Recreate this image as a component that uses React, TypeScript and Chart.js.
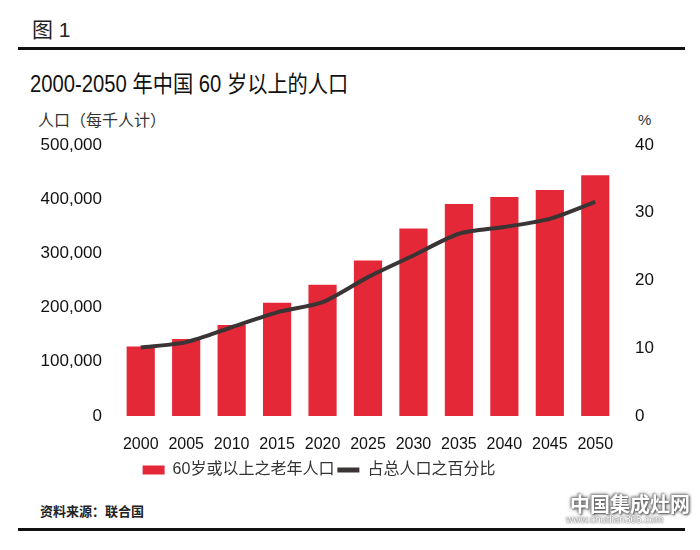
import React, { useEffect, useRef } from "react";
import { Chart, registerables } from "chart.js";

Chart.register(...registerables);

const years = ["2000", "2005", "2010", "2015", "2020", "2025", "2030", "2035", "2040", "2045", "2050"];
const elderlyPopulation = [128000, 142000, 168000, 209000, 242000, 287000, 346000, 391000, 404000, 417000, 444000];
const sharePercent = [10.1, 10.9, 13.1, 15.3, 16.8, 20.5, 23.7, 26.9, 27.9, 29.1, 31.6];
const leftTicks = [0, 100000, 200000, 300000, 400000, 500000];
const rightTicks = [0, 10, 20, 30, 40];

const barLabel = "60岁或以上之老年人口";
const lineLabel = "占总人口之百分比";

const RED = "#e52838";
const DARK = "#3a3434";
const FONT = "'Liberation Sans', 'Noto Sans CJK SC', sans-serif";

const legendShift = {
  id: "legendShift",
  afterLayout(chart: any) {
    const lg = chart.legend;
    if (lg) {
      lg.left -= 49;
      lg.right -= 49;
    }
  },
};

export default function App() {
  const ref = useRef<HTMLCanvasElement>(null);

  useEffect(() => {
    if (!ref.current) return;
    const chart = new Chart(ref.current, {
      type: "bar",
      data: {
        labels: years,
        datasets: [
          {
            type: "line",
            label: lineLabel,
            data: sharePercent,
            yAxisID: "y1",
            borderColor: DARK,
            backgroundColor: DARK,
            borderWidth: 4,
            pointRadius: 0,
            tension: 0.25,
            order: 0,
          } as any,
          {
            type: "bar",
            label: barLabel,
            data: elderlyPopulation,
            yAxisID: "y",
            backgroundColor: RED,
            borderWidth: 0,
            barPercentage: 0.62,
            categoryPercentage: 1,
            order: 1,
          },
        ],
      },
      plugins: [legendShift],
      options: {
        animation: false,
        responsive: false,
        maintainAspectRatio: false,
        layout: { padding: { top: 45, bottom: 12, left: 0, right: 0 } },
        plugins: {
          tooltip: { enabled: false },
          legend: {
            position: "bottom",
            fullSize: false,
            reverse: true,
            labels: {
              usePointStyle: true,
              pointStyleWidth: 22,
              boxHeight: 9,
              padding: 3,
              color: "#333",
              font: { family: FONT, size: 16 },
              generateLabels: (c: any) => {
                return c.data.datasets.map((ds: any, i: number) => {
                  const isLine = ds.type === "line";
                  return {
                    text: ds.label,
                    fillStyle: isLine ? DARK : RED,
                    strokeStyle: isLine ? DARK : RED,
                    lineWidth: isLine ? 5 : 0,
                    pointStyle: isLine ? "line" : "rect",
                    hidden: false,
                    datasetIndex: i,
                    fontColor: "#333",
                  };
                });
              },
            },
          },
        },
        scales: {
          x: {
            grid: { display: false, drawTicks: false },
            border: { display: false },
            ticks: {
              color: "#111",
              font: { family: FONT, size: 16 },
              padding: 19,
              maxRotation: 0,
              autoSkip: false,
            },
            afterFit: (s: any) => {
              s.height = 43;
            },
          },
          y: {
            position: "left",
            min: 0,
            max: 500000,
            grid: { display: false, drawTicks: false },
            border: { display: false },
            afterBuildTicks: (s: any) => {
              s.ticks = leftTicks.map((v) => ({ value: v }));
            },
            ticks: {
              color: "#111",
              font: { family: FONT, size: 17 },
              padding: 16,
              callback: (v: any) => Number(v).toLocaleString("en-US"),
            },
            afterFit: (s: any) => {
              s.width = 118;
            },
          },
          y1: {
            position: "right",
            min: 0,
            max: 40,
            grid: { display: false, drawTicks: false },
            border: { display: false },
            afterBuildTicks: (s: any) => {
              s.ticks = rightTicks.map((v) => ({ value: v }));
            },
            ticks: {
              color: "#111",
              font: { family: FONT, size: 17 },
              padding: 17,
            },
            afterFit: (s: any) => {
              s.width = 82;
            },
          },
        },
      },
    });
    return () => chart.destroy();
  }, []);

  const base: React.CSSProperties = {
    position: "absolute",
    fontFamily: FONT,
    whiteSpace: "nowrap",
    margin: 0,
  };

  return (
    <div style={{ position: "absolute", left: 0, top: 0, width: 700, height: 550, background: "#fff", overflow: "hidden" }}>
      <div style={{ ...base, left: 32, top: 13, fontSize: 21, color: "#222" }}>图 1</div>
      <div style={{ ...base, left: 18, top: 47, width: 667, height: 3, background: "#111" }} />
      <div
        style={{
          ...base,
          left: 30,
          top: 65,
          fontSize: 23,
          color: "#111",
          transform: "scaleX(0.88)",
          transformOrigin: "left top",
        }}
      >
        2000-2050 年中国 60 岁以上的人口
      </div>
      <div style={{ ...base, left: 38, top: 107, fontSize: 16, color: "#333" }}>人口（每千人计）</div>
      <div style={{ ...base, left: 638, top: 111, fontSize: 15, color: "#333" }}>%</div>
      <canvas
        ref={ref}
        width={700}
        height={400}
        style={{ position: "absolute", left: 0, top: 100, width: 700, height: 400 }}
      />
      <div style={{ ...base, left: 40, top: 501, fontSize: 13, color: "#222", fontWeight: 700 }}>资料来源：联合国</div>
      <div style={{ ...base, left: 18, top: 528, width: 667, height: 3, background: "#111" }} />
      <div
        style={{
          ...base,
          left: 570,
          top: 489,
          fontSize: 20,
          fontWeight: 700,
          color: "#fff",
          textShadow: "1px 1px 2px #555, -1px -1px 2px #888, 0 0 4px #666",
        }}
      >
        中国集成灶网
      </div>
      <div
        style={{
          ...base,
          left: 566,
          top: 514,
          fontSize: 10,
          color: "#fff",
          textShadow: "0 0 2px #555, 0 0 1px #777",
        }}
      >
        www.chudian365.com
      </div>
    </div>
  );
}
